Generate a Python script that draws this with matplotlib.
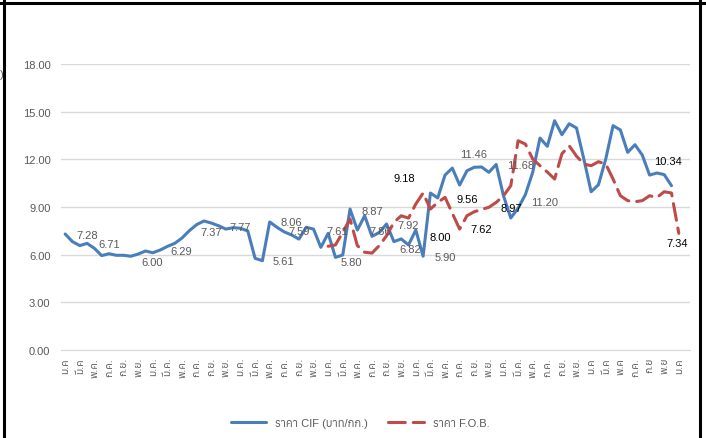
import numpy as np
import matplotlib
matplotlib.use('Agg')
import matplotlib.pyplot as plt
from matplotlib import font_manager
from matplotlib.ft2font import FT2Font
from matplotlib.lines import Line2D


# month labels are Thai, so look for any installed family that has Thai glyphs
def find_thai_fonts():
    names = []
    for f in font_manager.fontManager.ttflist:
        try:
            if 0x0E23 in FT2Font(f.fname).get_charmap():
                names.append(f.name)
        except Exception:
            pass
    return sorted(set(names))

thai_fonts = find_thai_fonts()
plt.rcParams['font.family'] = ['Liberation Sans'] + thai_fonts + ['DejaVu Sans']


# DATA #
n_categories = 86

tick_labels = [
    'ม.ค', 'มี.ค', 'พ.ค.', 'ก.ค.', 'ก.ย.', 'พ.ย.',
    'ม.ค.', 'มี.ค.', 'พ.ค.', 'ก.ค.', 'ก.ย.', 'พ.ย.',
    'ม.ค.', 'มี.ค.', 'พ.ค.', 'ก.ค.', 'ก.ย.', 'พ.ย.',
    'ม.ค.', 'มี.ค.', 'พ.ค.', 'ก.ค.', 'ก.ย.', 'พ.ย.',
    'ม.ค.', 'มี.ค.', 'พ.ค.', 'ก.ค.', 'ก.ย.', 'พ.ย.',
    'ม.ค.', 'มี.ค.', 'พ.ค.', 'ก.ค.', 'ก.ย.', 'พ.ย.',
    'ม.ค', 'มี.ค', 'พ.ค', 'ก.ค.', 'ก.ย', 'พ.ย',
    'ม.ค',
]

# ราคา CIF (บาท/กก.)
cif = [7.30, 6.82, 6.57, 6.71, 6.40, 5.94, 6.06, 5.96, 5.96, 5.90,
       6.04, 6.23, 6.12, 6.29, 6.52, 6.71, 7.05, 7.51, 7.89, 8.12,
       7.99, 7.82, 7.61, 7.70, 7.66, 7.49, 5.77, 5.62, 8.06, 7.72,
       7.43, 7.24, 6.98, 7.72, 7.61, 6.46, 7.34, 5.83, 5.98, 8.87,
       7.55, 8.45, 7.15, 7.40, 7.93, 6.82, 6.99, 6.61, 7.55, 5.90,
       9.88, 9.57, 11.01, 11.45, 10.38, 11.28, 11.50, 11.52, 11.18, 11.68,
       9.71, 8.31, 8.92, 9.78, 11.18, 13.34, 12.82, 14.43, 13.55, 14.24,
       13.97, 12.02, 9.96, 10.40, 12.02, 14.12, 13.85, 12.44, 12.92, 12.27,
       11.01, 11.14, 11.04, 10.34]

# ราคา F.O.B. (starts later)
fob_start = 36
fob = [6.53, 6.61, 7.41, 8.24, 6.57, 6.15, 6.10, 6.57, 7.19, 8.03,
       8.45, 8.30, 9.19, 9.88, 8.87, 9.29, 9.61, 8.60, 7.61, 8.45,
       8.70, 8.85, 8.98, 9.29, 9.70, 10.34, 13.17, 12.96, 12.02, 11.60,
       11.20, 10.76, 12.35, 12.85, 12.20, 11.70, 11.60, 11.85, 11.70, 10.76,
       9.71, 9.40, 9.33, 9.40, 9.71, 9.60, 9.96, 9.88, 7.34]

# data labels: text, category position, value position
cif_label_text = ['7.28', '6.71', '6.00', '6.29', '7.37', '7.77', '5.61', '8.06',
                  '7.59', '7.61', '5.80', '8.87', '7.86', '7.92', '6.82', '5.90',
                  '11.46', '11.68', '11.20']
cif_label_x = [3.0, 6.0, 11.9, 15.9, 20.0, 23.9, 29.9, 31.0,
               32.0, 37.2, 39.2, 42.0, 43.1, 47.0, 47.3, 52.0,
               55.9, 62.4, 65.6]
cif_label_y = [7.26, 6.67, 5.56, 6.23, 7.40, 7.72, 5.62, 8.03,
               7.51, 7.51, 5.54, 8.77, 7.51, 7.87, 6.36, 5.83,
               12.31, 11.64, 9.29]

fob_label_text = ['9.18', '8.00', '9.56', '7.62', '8.97', '10.34', '7.34']
fob_label_x = [46.4, 51.4, 55.0, 56.9, 61.0, 82.5, 83.8]
fob_label_y = [10.80, 7.09, 9.50, 7.61, 8.96, 11.87, 6.73]


# PLOT #
blue = '#4a7ebb'
red = '#be4b48'
gray_text = '#595959'

fig = plt.figure(figsize=(7.06, 4.39), dpi=100, facecolor='w')
ax = fig.add_axes([0.0871, 0.2005, 0.8899, 0.6514])

x_cif = np.arange(len(cif))
x_fob = np.arange(fob_start, fob_start + len(fob))

ax.plot(x_cif, cif, color=blue, lw=2.2, solid_joinstyle='round',
        solid_capstyle='round', label='ราคา CIF (บาท/กก.)', zorder=3)
ax.plot(x_fob, fob, color=red, lw=2.2, linestyle=(0, (5.5, 2.6)),
        dash_capstyle='round', dash_joinstyle='round',
        label='ราคา F.O.B.', zorder=4)

for t, lx, ly in zip(cif_label_text, cif_label_x, cif_label_y):
    ax.text(lx, ly, t, ha='center', va='center', fontsize=8, color=gray_text, zorder=5)
for t, lx, ly in zip(fob_label_text, fob_label_x, fob_label_y):
    ax.text(lx, ly, t, ha='center', va='center', fontsize=8, color='black', zorder=5)

ax.set_xlim(-0.5, n_categories - 0.5)
ax.set_ylim(0, 18)
ax.set_yticks(np.arange(0, 19, 3))
ax.set_yticklabels(['%.2f' % v for v in np.arange(0, 19, 3)])
ax.set_xticks(np.arange(0, 2 * len(tick_labels), 2))
ax.set_xticklabels(tick_labels, rotation=90)

ax.yaxis.grid(True, color='#d9d9d9', lw=1.0)
ax.set_axisbelow(True)
for s in ['top', 'right', 'left']:
    ax.spines[s].set_visible(False)
ax.spines['bottom'].set_color('#d9d9d9')
ax.tick_params(axis='both', length=0, colors=gray_text)
ax.tick_params(axis='y', labelsize=8, pad=8)
ax.tick_params(axis='x', labelsize=7.5, pad=5)

fig.legend(loc='lower center', bbox_to_anchor=(0.51, 0.0), ncol=2, frameon=False,
           fontsize=8, handlelength=3.2, columnspacing=1.8, labelcolor=gray_text)

# clipped axis title at the left edge and the cell border round the chart
fig.text(0.005, 1 - 75 / 439, '(บาท/กก.)', ha='right', va='center',
         fontsize=8, color=gray_text)
fig.add_artist(Line2D([0, 1], [1 - 4 / 439] * 2, transform=fig.transFigure, color='black', lw=2.2))
fig.add_artist(Line2D([4 / 706] * 2, [0, 1], transform=fig.transFigure, color='black', lw=2.2))
fig.add_artist(Line2D([699.5 / 706] * 2, [0, 1], transform=fig.transFigure, color='black', lw=2.2))

fig.savefig('out.png', dpi=100)
